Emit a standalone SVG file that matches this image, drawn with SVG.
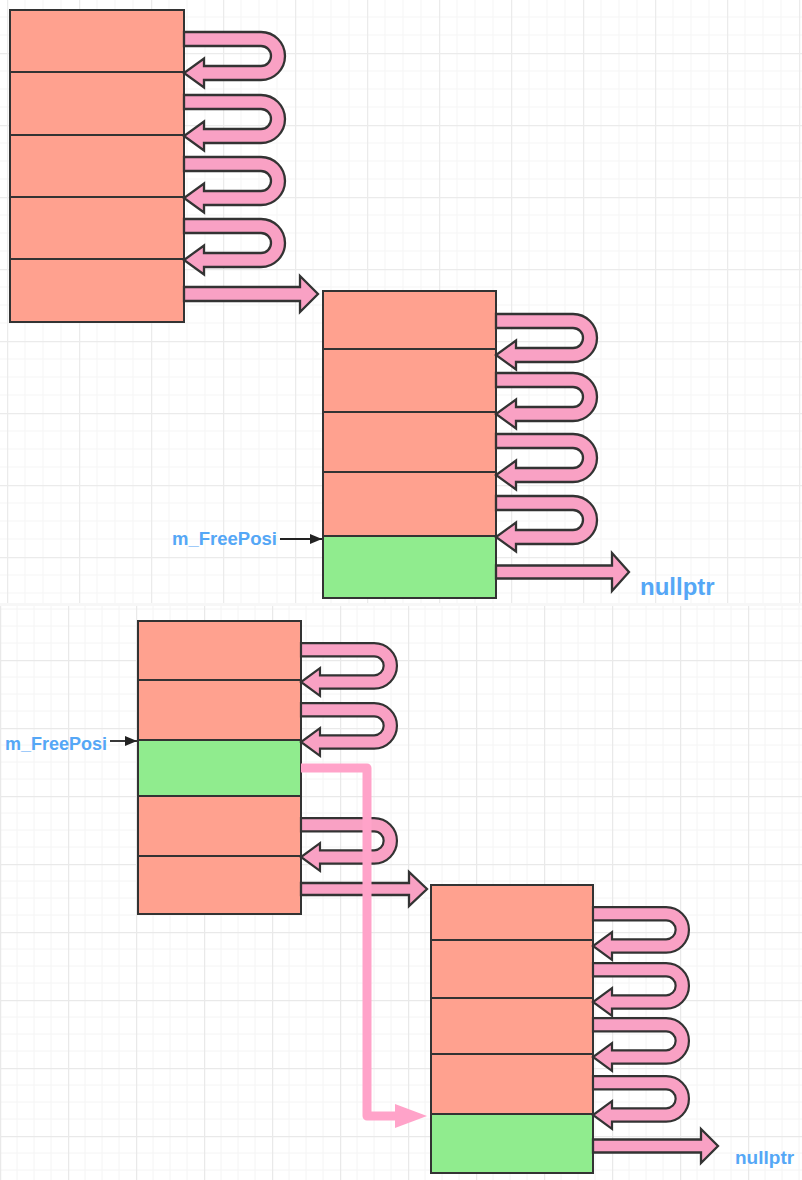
<svg xmlns="http://www.w3.org/2000/svg" xmlns:xlink="http://www.w3.org/1999/xlink" width="802" height="1180" viewBox="0 0 802 1180">
<style>
.row{fill:#FFA18F;stroke:#333;stroke-width:2}
.free{fill:#90EC8E;stroke:#333;stroke-width:2}
.arr{fill:#F9A1C4;stroke:#333;stroke-width:2.3;stroke-linejoin:miter}
.lbl{font-family:"Liberation Sans",Arial,sans-serif;font-weight:bold;fill:#55A7F6}
.ptr{stroke:#222;stroke-width:1.8;fill:none}
.mv{fill:none;stroke:#FFA3C9;stroke-width:9;stroke-linejoin:round}
</style>
<defs>
<pattern id="gT" width="72" height="72" x="7" y="53" patternUnits="userSpaceOnUse">
<path d="M18,0V72M36,0V72M54,0V72M0,18H72M0,36H72M0,54H72" stroke="#f5f5f5" stroke-width="1"/>
<path d="M0.5,0V72M0,0.5H72" stroke="#ebebeb" stroke-width="1.5"/>
</pattern>
<pattern id="gB" width="68" height="68" x="0" y="48" patternUnits="userSpaceOnUse">
<path d="M17,0V68M34,0V68M51,0V68M0,17H68M0,34H68M0,51H68" stroke="#f4f4f4" stroke-width="1"/>
<path d="M0.5,0V68M0,0.5H68" stroke="#e9e9e9" stroke-width="1.5"/>
</pattern>
<path id="u" d="M0,-41 L77,-41 A24,24 0 0 1 77,7 L20,7 L20,14.5 L0,0 L20,-14.5 L20,-7 L77,-7 A10,10 0 0 0 77,-27 L0,-27 Z"/>
<marker id="ah" markerWidth="12" markerHeight="10" refX="12" refY="5" orient="auto" markerUnits="userSpaceOnUse">
<path d="M0,0 L12,5 L0,10 Z" fill="#222"/>
</marker>
</defs>

<g id="background">
<rect x="0" y="0" width="802" height="604" fill="#fff"/>
<rect x="0" y="0" width="802" height="604" fill="url(#gT)"/>
<rect x="0" y="606" width="802" height="574" fill="#fff"/>
<rect x="0" y="606" width="802" height="574" fill="url(#gB)"/>
<rect x="0" y="603" width="802" height="3" fill="#f7f7f7"/>
</g>

<g id="block1">
<rect class="row" x="10" y="10" width="174" height="62"/>
<rect class="row" x="10" y="72" width="174" height="63"/>
<rect class="row" x="10" y="135" width="174" height="62"/>
<rect class="row" x="10" y="197" width="174" height="62"/>
<rect class="row" x="10" y="259" width="174" height="63"/>
</g>

<g id="block2">
<rect class="row" x="323" y="291" width="173" height="58"/>
<rect class="row" x="323" y="349" width="173" height="63"/>
<rect class="row" x="323" y="412" width="173" height="60"/>
<rect class="row" x="323" y="472" width="173" height="64"/>
<rect class="free" x="323" y="536" width="173" height="62"/>
</g>

<g id="block3">
<rect class="row" x="138" y="621" width="163" height="59"/>
<rect class="row" x="138" y="680" width="163" height="60"/>
<rect class="free" x="138" y="740" width="163" height="56"/>
<rect class="row" x="138" y="796" width="163" height="60"/>
<rect class="row" x="138" y="856" width="163" height="58"/>
</g>

<g id="block4">
<rect class="row" x="431" y="885" width="162" height="55"/>
<rect class="row" x="431" y="940" width="162" height="58"/>
<rect class="row" x="431" y="998" width="162" height="56"/>
<rect class="row" x="431" y="1054" width="162" height="60"/>
<rect class="free" x="431" y="1114" width="162" height="59"/>
</g>

<g id="label-top-freeposi">
<text class="lbl" x="172" y="545" font-size="18.5">m_FreePosi</text>
</g>
<g id="label-top-nullptr">
<text class="lbl" x="640" y="595" font-size="24">nullptr</text>
</g>
<g id="label-bottom-freeposi">
<text class="lbl" x="5" y="750" font-size="18">m_FreePosi</text>
</g>
<g id="label-bottom-nullptr">
<text class="lbl" x="735" y="1164" font-size="19">nullptr</text>
</g>

<g id="connectors">
<use class="arr" xlink:href="#u" href="#u" transform="translate(184,73)"/>
<use class="arr" xlink:href="#u" href="#u" transform="translate(184,136)"/>
<use class="arr" xlink:href="#u" href="#u" transform="translate(184,198)"/>
<use class="arr" xlink:href="#u" href="#u" transform="translate(184,260)"/>
<path class="arr" d="M184,287 H300 V276 L318,294 L300,312 V301 H184 Z"/>

<use class="arr" xlink:href="#u" href="#u" transform="translate(496,355)"/>
<use class="arr" xlink:href="#u" href="#u" transform="translate(496,414)"/>
<use class="arr" xlink:href="#u" href="#u" transform="translate(496,475)"/>
<use class="arr" xlink:href="#u" href="#u" transform="translate(496,537)"/>
<path class="arr" d="M496,565.5 H612 V553 L629,572 L612,591 V578.5 H496 Z"/>

<use class="arr" xlink:href="#u" href="#u" transform="translate(301,682) scale(0.95)"/>
<use class="arr" xlink:href="#u" href="#u" transform="translate(301,742) scale(0.95)"/>
<use class="arr" xlink:href="#u" href="#u" transform="translate(301,857) scale(0.95)"/>
<path class="arr" d="M301,883 H409 V872 L427,889 L409,906 V895 H301 Z"/>

<use class="arr" xlink:href="#u" href="#u" transform="translate(593,946) scale(0.95)"/>
<use class="arr" xlink:href="#u" href="#u" transform="translate(593,1002) scale(0.95)"/>
<use class="arr" xlink:href="#u" href="#u" transform="translate(593,1057) scale(0.95)"/>
<use class="arr" xlink:href="#u" href="#u" transform="translate(593,1115) scale(0.95)"/>
<path class="arr" d="M593,1139.5 H701 V1129 L718,1146 L701,1163 V1152.5 H593 Z"/>

<line class="ptr" x1="280" y1="539" x2="322" y2="539" marker-end="url(#ah)"/>
<line class="ptr" x1="110" y1="741" x2="137" y2="741" marker-end="url(#ah)"/>

<path class="mv" d="M301,768 H367 V1116 H397"/>
<path d="M395,1104 L427,1116 L395,1128 Z" fill="#FFA3C9"/>
</g>
</svg>
